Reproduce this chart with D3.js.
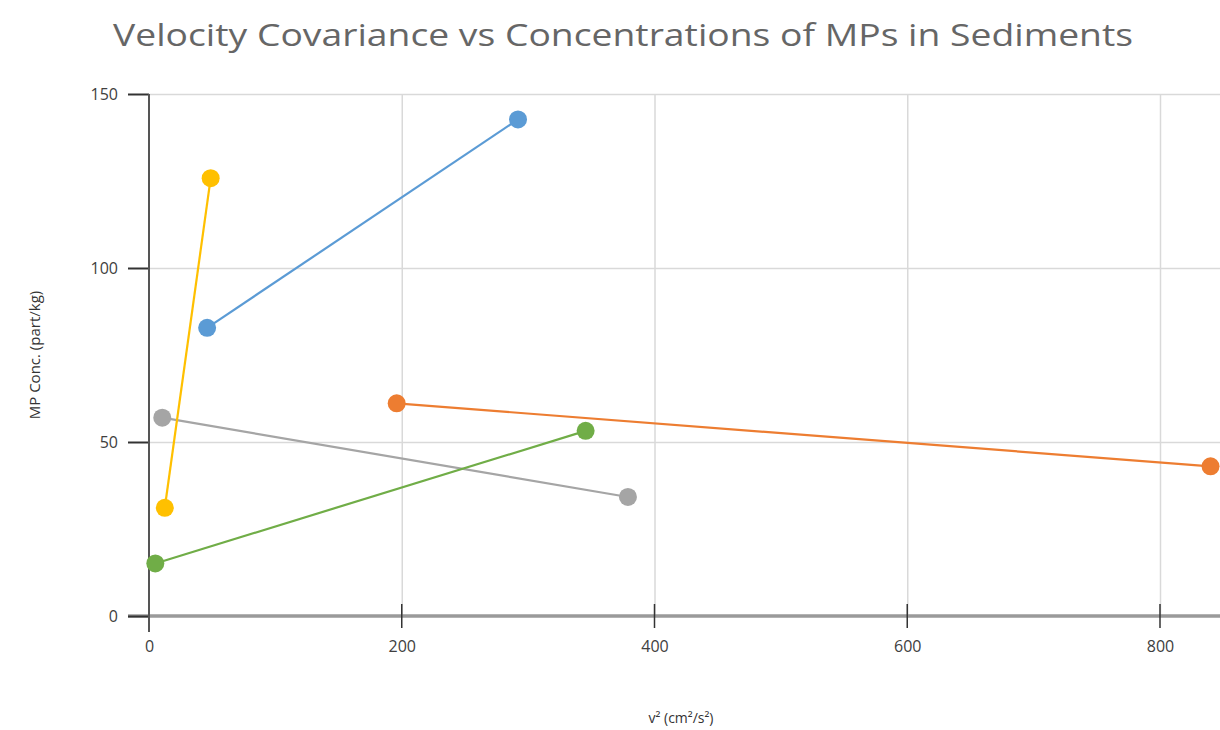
<!DOCTYPE html>
<html lang="en">
<head>
	<meta charset="UTF-8">
	<title>Velocity Covariance vs Concentrations of MPs in Sediments</title>
	<script src="https://d3js.org/d3.v7.min.js"></script>
	<style>
		body { margin: 0; background: #fff; font-family: "Open Sans", sans-serif; }
		.grid line { stroke: #d9d9d9; stroke-width: 1.5; }
		.grid path { display: none; }
	</style>
</head>
<body>
<div id="chart"></div>
<script>
	// data: two points per series
	const seriesNames = ["Blue", "Orange", "Gray", "Yellow", "Green"];
	const seriesColors = ["#5B9BD5", "#ED7D31", "#A5A5A5", "#FFC000", "#70AD47"];
	const xBlue = [46, 292],   yBlue = [82.8, 142.7];
	const xOrange = [196, 840], yOrange = [61.1, 43];
	const xGray = [10.5, 379], yGray = [57, 34.2];
	const xYellow = [12.5, 48.8], yYellow = [31.1, 125.8];
	const xGreen = [5, 345.5], yGreen = [15.1, 53.2];
	const xTicks = [0, 200, 400, 600, 800];
	const yTicks = [0, 50, 100, 150];

	const W = 1220, H = 730;
	const margin = {top: 94, right: 0, bottom: 114, left: 149};
	const plotW = W - margin.left - margin.right,
		  plotH = H - margin.top - margin.bottom;

	const xs = [xBlue, xOrange, xGray, xYellow, xGreen];
	const ys = [yBlue, yOrange, yGray, yYellow, yGreen];
	const series = seriesNames.map((name, i) => ({
		name: name,
		color: seriesColors[i],
		points: xs[i].map((x, j) => ({x: x, y: ys[i][j]}))
	}));

	const svg = d3.select("#chart").append("svg")
		.attr("width", W)
		.attr("height", H);

	const g = svg.append("g")
		.attr("transform", `translate(${margin.left},${margin.top})`);

	// x scale: 0..800 spans 1011px, the axis runs on past the right edge
	const x = d3.scaleLinear().domain([0, 800]).range([0, 1011]);
	const y = d3.scaleLinear().domain([0, 150]).range([plotH, 0]);

	// grid lines
	g.append("g")
		.attr("class", "grid")
		.call(d3.axisLeft(y).tickValues(yTicks.slice(1)).tickSize(-plotW).tickFormat(""));
	g.append("g")
		.attr("class", "grid")
		.call(d3.axisTop(x).tickValues(xTicks.slice(1)).tickSize(-plotH).tickFormat(""));

	// x axis
	const xAxis = g.append("g")
		.attr("transform", `translate(0,${plotH})`)
		.call(d3.axisBottom(x).tickValues(xTicks).tickSize(0).tickPadding(25));
	xAxis.select(".domain").remove();
	xAxis.selectAll("text").style("font-size", "16px").attr("fill", "#404040")
		.style("font-family", "'Open Sans', sans-serif");
	g.append("line")
		.attr("x1", -21).attr("x2", plotW)
		.attr("y1", plotH).attr("y2", plotH)
		.attr("stroke", "#9a9a9a").attr("stroke-width", 3.5);
	g.selectAll(".xtick")
		.data(xTicks)
		.join("line")
		.attr("x1", d => x(d)).attr("x2", d => x(d))
		.attr("y1", plotH - 12).attr("y2", plotH + 12)
		.attr("stroke", "#333").attr("stroke-width", 1.5);

	// y axis
	const yAxis = g.append("g")
		.call(d3.axisLeft(y).tickValues(yTicks).tickSize(21).tickPadding(10));
	yAxis.select(".domain").remove();
	yAxis.selectAll(".tick line").attr("stroke", "#333").attr("stroke-width", 2);
	yAxis.selectAll("text").style("font-size", "16px").attr("fill", "#404040")
		.style("font-family", "'Open Sans', sans-serif");
	g.append("line")
		.attr("x1", 0).attr("x2", 0)
		.attr("y1", 0).attr("y2", plotH + 16)
		.attr("stroke", "#555").attr("stroke-width", 2);

	// series lines and markers
	const line = d3.line().x(d => x(d.x)).y(d => y(d.y));
	const sg = g.selectAll(".series")
		.data(series)
		.join("g")
		.attr("class", "series");
	sg.append("path")
		.attr("d", d => line(d.points))
		.attr("fill", "none")
		.attr("stroke", d => d.color)
		.attr("stroke-width", 2.2);
	sg.selectAll("circle")
		.data(d => d.points.map(p => ({...p, color: d.color})))
		.join("circle")
		.attr("cx", d => x(d.x))
		.attr("cy", d => y(d.y))
		.attr("r", 9)
		.attr("fill", d => d.color);

	// title
	svg.append("text")
		.attr("x", 623)
		.attr("y", 46)
		.attr("text-anchor", "middle")
		.attr("fill", "#666")
		.style("font-size", "31px")
		.attr("textLength", 1020)
		.attr("lengthAdjust", "spacingAndGlyphs")
		.text("Velocity Covariance vs Concentrations of MPs in Sediments");

	// axis titles
	svg.append("text")
		.attr("x", 681)
		.attr("y", 723)
		.attr("text-anchor", "middle")
		.attr("fill", "#333")
		.style("font-size", "14px")
		.text("v² (cm²/s²)");

	svg.append("text")
		.attr("transform", "rotate(-90)")
		.attr("x", -355)
		.attr("y", 40)
		.attr("text-anchor", "middle")
		.attr("fill", "#333")
		.style("font-size", "15px")
		.text("MP Conc. (part/kg)");
</script>
</body>
</html>
